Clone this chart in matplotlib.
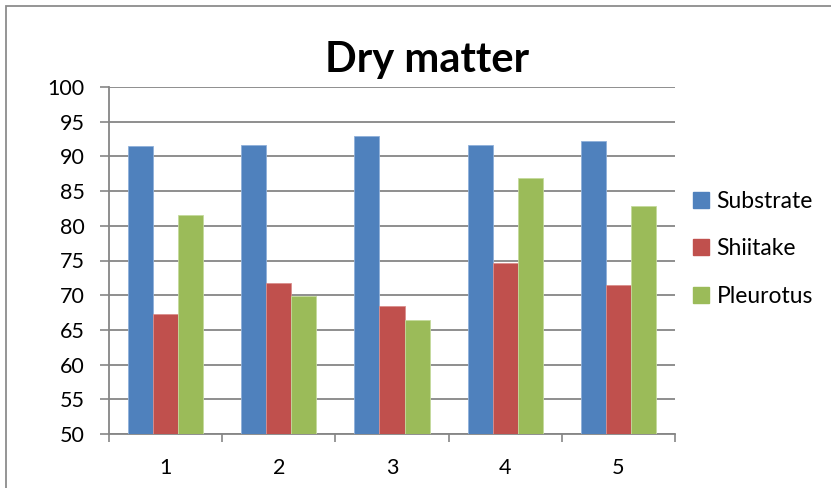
import matplotlib.pyplot as plt
import matplotlib.patches as mpatches
import numpy as np

plt.rcParams['font.family'] = ['Lato', 'DejaVu Sans']

categories = ['1', '2', '3', '4', '5']
substrate = [91.5, 91.6, 92.9, 91.7, 92.2]
shiitake = [67.3, 71.8, 68.5, 74.7, 71.5]
pleurotus = [81.5, 69.9, 66.4, 86.9, 82.9]
series_names = ['Substrate', 'Shiitake', 'Pleurotus']
colors = ['#4F81BD', '#C0504D', '#9BBB59']
edges = ['#8FB0DA', '#DA8E8C', '#C4DA9C']

fig = plt.figure(figsize=(8.31, 4.88), dpi=100)
ax = fig.add_axes([109 / 831, 1 - 434 / 488, 566 / 831, 347 / 488])

x = np.arange(len(categories))
w = 0.221
for i, vals in enumerate([substrate, shiitake, pleurotus]):
    ax.bar(x + (i - 1) * w, np.array(vals) - 50, bottom=50, width=w,
           color=colors[i], edgecolor=edges[i], linewidth=0.6, zorder=3,
           label=series_names[i])

ax.set_xlim(-0.5, len(categories) - 0.5)
ax.set_ylim(50, 100)
ax.set_yticks(range(50, 101, 5))
ax.set_xticks(x)
ax.set_xticklabels(categories)
ax.set_xticks(np.arange(-0.5, len(categories), 1), minor=True)
ax.tick_params(axis='x', which='major', length=0, labelsize=15.5, pad=17)
ax.tick_params(axis='x', which='minor', length=6, width=1.2, color='#868686')
ax.tick_params(axis='y', length=6.5, width=1.2, color='#868686',
               labelsize=15.5, pad=11)
ax.grid(axis='y', color='#868686', linewidth=1.3, zorder=0)

for side in ['top', 'right']:
    ax.spines[side].set_visible(False)
for side in ['left', 'bottom']:
    ax.spines[side].set_color('#868686')
    ax.spines[side].set_linewidth(1.3)

fig.text(427 / 831, 1 - 60 / 488, 'Dry matter', ha='center', va='center',
         fontsize=30, fontweight='bold')

handles = [mpatches.Patch(color=c) for c in colors]
fig.legend(handles, series_names, loc='center left',
           bbox_to_anchor=(672 / 831, 1 - 249 / 488), frameon=False,
           fontsize=16.5, handlelength=0.7, handleheight=0.7,
           handletextpad=0.35, labelspacing=1.15)

# outer chart frame
fig.patches.append(mpatches.Rectangle((6 / 831, -0.1), 1.2, 1 - 6 / 488 + 0.1,
                                      transform=fig.transFigure, fill=False,
                                      edgecolor='#8C8C8C', linewidth=1.3))

fig.savefig('out.png', dpi=100)
